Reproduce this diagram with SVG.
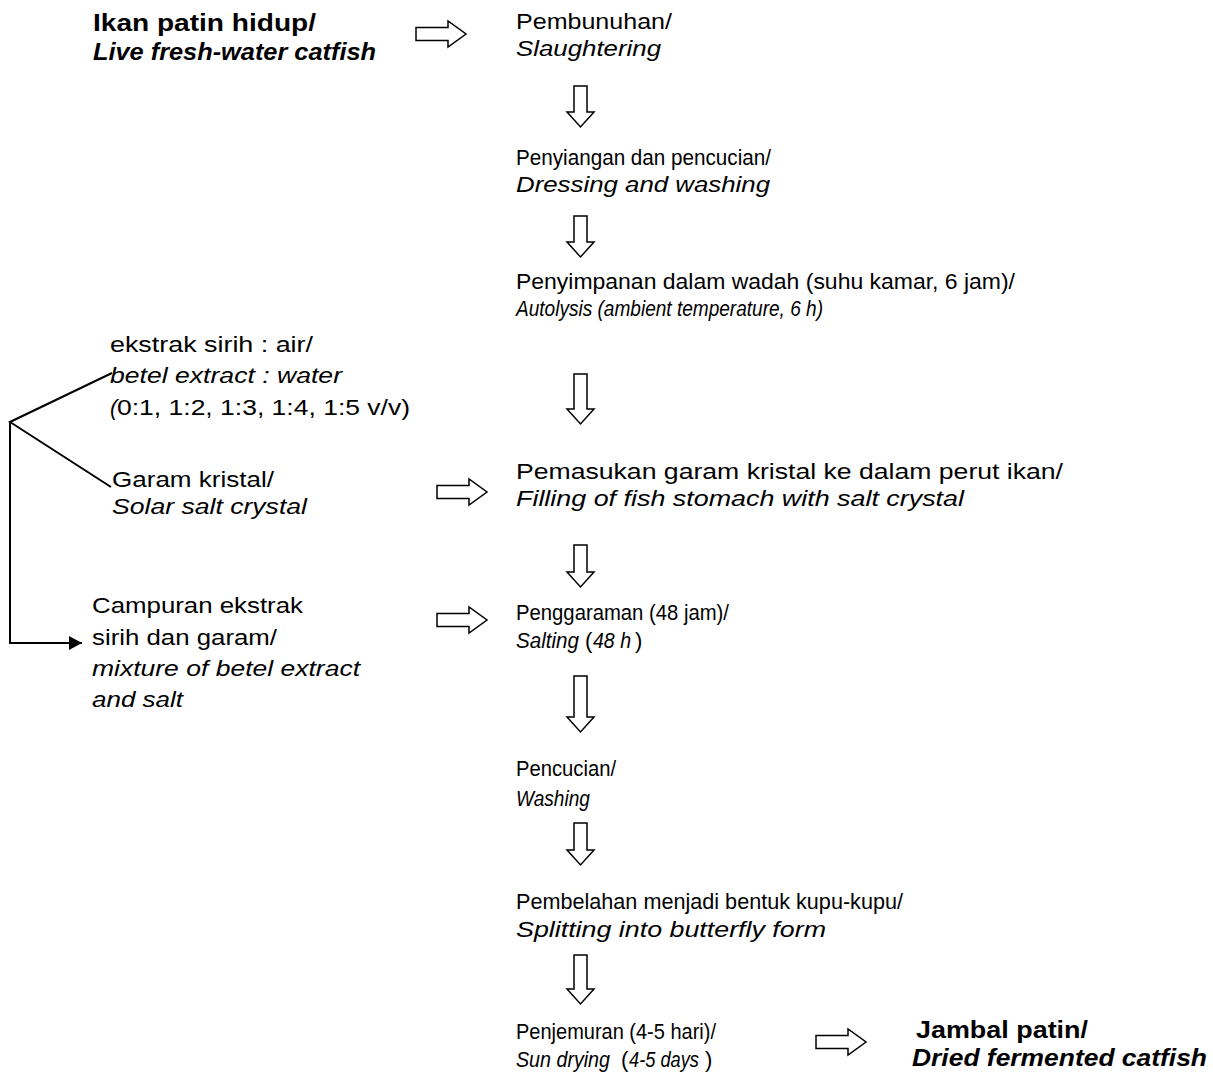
<svg xmlns="http://www.w3.org/2000/svg" width="1213" height="1076" viewBox="0 0 1213 1076">
<style>
text{font-family:"Liberation Sans",Arial,sans-serif;font-size:22px;fill:#000}
.b{font-weight:bold;font-size:24px}
.i{font-style:italic}
.arr{fill:#fff;stroke:#000;stroke-width:1.5;stroke-linejoin:miter}
.ln{fill:none;stroke:#000;stroke-width:2}
</style>
<defs>
<path id="ra" d="M0,-6.5 H32 V-13 L50,0 L32,13 V6.5 H0 Z"/>
<marker id="mh" markerWidth="14" markerHeight="14" refX="13" refY="7" orient="auto" markerUnits="userSpaceOnUse"><path d="M0,0 L13,7 L0,14 Z" fill="#000"/></marker>
</defs>
<g id="connectors">
<use href="#ra" class="arr" x="416" y="34"/>
<use href="#ra" class="arr" x="437" y="492"/>
<use href="#ra" class="arr" x="437" y="620"/>
<use href="#ra" class="arr" x="816" y="1042"/>
<path class="arr" d="M574,86 H587 V112 H594 L580.5,127 L567,112 H574 Z"/>
<path class="arr" d="M574,216 H587 V242 H594 L580.5,257 L567,242 H574 Z"/>
<path class="arr" d="M574,374 H587 V409 H594 L580.5,424 L567,409 H574 Z"/>
<path class="arr" d="M574,545 H587 V572 H594 L580.5,587 L567,572 H574 Z"/>
<path class="arr" d="M574,676 H587 V717 H594 L580.5,732 L567,717 H574 Z"/>
<path class="arr" d="M574,823 H587 V850 H594 L580.5,865 L567,850 H574 Z"/>
<path class="arr" d="M574,955 H587 V989 H594 L580.5,1004 L567,989 H574 Z"/>
<path class="ln" d="M112,373 L10,422 L111,487"/>
<path class="ln" d="M10,422 V643 H82" marker-end="url(#mh)"/>
</g>
<g id="n-live"><text class="b" x="93" y="31" textLength="223" lengthAdjust="spacingAndGlyphs">Ikan patin hidup/</text><text class="b i" x="93" y="60" textLength="283" lengthAdjust="spacingAndGlyphs">Live fresh-water catfish</text></g>
<g id="n-slaughter"><text x="516" y="29" textLength="156" lengthAdjust="spacingAndGlyphs">Pembunuhan/</text><text class="i" x="516" y="56" textLength="145" lengthAdjust="spacingAndGlyphs">Slaughtering</text></g>
<g id="n-dressing"><text x="516" y="165" textLength="255" lengthAdjust="spacingAndGlyphs">Penyiangan dan pencucian/</text><text class="i" x="516" y="192" textLength="254" lengthAdjust="spacingAndGlyphs">Dressing and washing</text></g>
<g id="n-autolysis"><text x="516" y="289" textLength="499" lengthAdjust="spacingAndGlyphs">Penyimpanan dalam wadah (suhu kamar, 6 jam)/</text><text class="i" x="516" y="316" textLength="307" lengthAdjust="spacingAndGlyphs">Autolysis (ambient temperature, 6 h)</text></g>
<g id="n-betel"><text x="110" y="352" textLength="203" lengthAdjust="spacingAndGlyphs">ekstrak sirih : air/</text><text class="i" x="110" y="383" textLength="232" lengthAdjust="spacingAndGlyphs">betel extract : water</text><text class="i" x="110" y="415">(</text><text x="117" y="415" textLength="293" lengthAdjust="spacingAndGlyphs">0:1, 1:2, 1:3, 1:4, 1:5 v/v)</text></g>
<g id="n-salt"><text x="112" y="487" textLength="162" lengthAdjust="spacingAndGlyphs">Garam kristal/</text><text class="i" x="112" y="514" textLength="195" lengthAdjust="spacingAndGlyphs">Solar salt crystal</text></g>
<g id="n-filling"><text x="516" y="479" textLength="547" lengthAdjust="spacingAndGlyphs">Pemasukan garam kristal ke dalam perut ikan/</text><text class="i" x="516" y="506" textLength="448" lengthAdjust="spacingAndGlyphs">Filling of fish stomach with salt crystal</text></g>
<g id="n-mixture"><text x="92" y="613" textLength="211" lengthAdjust="spacingAndGlyphs">Campuran ekstrak</text><text x="92" y="645" textLength="185" lengthAdjust="spacingAndGlyphs">sirih dan garam/</text><text class="i" x="92" y="676" textLength="268" lengthAdjust="spacingAndGlyphs">mixture of betel extract</text><text class="i" x="92" y="707" textLength="91" lengthAdjust="spacingAndGlyphs">and salt</text></g>
<g id="n-salting"><text x="516" y="620" textLength="213" lengthAdjust="spacingAndGlyphs">Penggaraman (48 jam)/</text><text class="i" x="516" y="648" textLength="63" lengthAdjust="spacingAndGlyphs">Salting</text><text x="585" y="648">(</text><text class="i" x="593" y="648" textLength="38" lengthAdjust="spacingAndGlyphs">48 h</text><text x="635" y="648">)</text></g>
<g id="n-washing"><text x="516" y="776" textLength="100" lengthAdjust="spacingAndGlyphs">Pencucian/</text><text class="i" x="516" y="806" textLength="74" lengthAdjust="spacingAndGlyphs">Washing</text></g>
<g id="n-splitting"><text x="516" y="909" textLength="387" lengthAdjust="spacingAndGlyphs">Pembelahan menjadi bentuk kupu-kupu/</text><text class="i" x="516" y="937" textLength="310" lengthAdjust="spacingAndGlyphs">Splitting into butterfly form</text></g>
<g id="n-drying"><text x="516" y="1039" textLength="200" lengthAdjust="spacingAndGlyphs">Penjemuran (4-5 hari)/</text><text class="i" x="516" y="1067" textLength="94" lengthAdjust="spacingAndGlyphs">Sun drying</text><text x="621" y="1067">(</text><text class="i" x="629" y="1067" textLength="70" lengthAdjust="spacingAndGlyphs">4-5 days</text><text x="705" y="1067">)</text></g>
<g id="n-jambal"><text class="b" x="916" y="1038" textLength="172" lengthAdjust="spacingAndGlyphs">Jambal patin/</text><text class="b i" x="912" y="1066" textLength="295" lengthAdjust="spacingAndGlyphs">Dried fermented catfish</text></g>
</svg>
